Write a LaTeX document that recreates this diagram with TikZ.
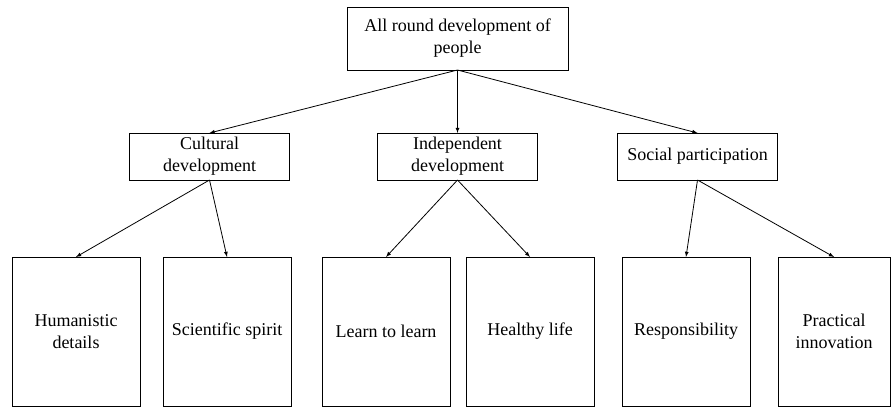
\documentclass[tikz,border=0pt]{standalone}
\usepackage{fontspec}
\setmainfont{Liberation Serif}
\usetikzlibrary{arrows,positioning}
\def \medY {63pt}
\def \leafY {331.5}
\tikzset{
 	topblock/.style= {draw, rectangle, align=center, minimum width=221pt, minimum height=63pt, font=\fontsize{18}{22}\selectfont},
 	midblock/.style= {draw, rectangle, align=center, minimum width=160pt, minimum height=47pt, font=\fontsize{18}{22}\selectfont},
 	leafblock/.style= {draw, rectangle, align=center, minimum width=128pt, minimum height=149pt, font=\fontsize{18}{22}\selectfont},
 	link/.style= {draw, -latex, line width=0.8pt}
 }
\begin{document}
\begin{tikzpicture}[x=1pt, y=-1pt, inner sep=2pt, outer sep=0pt, line width=0.8pt]
\useasboundingbox (0,0) rectangle (893,407);

%%%%%%%%%%%%%%%%%%%%% Nodes %%%%%%%%%%%%%%%%%%%%%
	\node [topblock] (all) at (457.5,38.5) {All round development of\\people};
    \node [midblock, below = \medY of all] (indep) {Independent\\development};
    \node [midblock, left = 88pt of indep] (cult) {Cultural\\development};
    \node [midblock, right = 80pt of indep] (social) {Social participation};

    \node [leafblock] (human) at (76,\leafY) {Humanistic\\details};
    \node [leafblock] (sci) at (227,\leafY) {Scientific spirit};
    \node [leafblock] (learn) at (386,\leafY) {Learn to learn};
    \node [leafblock] (health) at (530,\leafY) {Healthy life};
    \node [leafblock] (resp) at (686,\leafY) {Responsibility};
    \node [leafblock, minimum width=112pt] (pract) at (834,\leafY) {Practical\\innovation};

%%%%%%%%%%%%%%%%%%%%% Links %%%%%%%%%%%%%%%%%%%%%
	\draw [link] (all.south) -- (cult.north);
	\draw [link] (all.south) -- (indep.north);
	\draw [link] (all.south) -- (social.north);
	\draw [link] (cult.south) -- (human.north);
	\draw [link] (cult.south) -- (sci.north);
	\draw [link] (indep.south) -- (learn.north);
	\draw [link] (indep.south) -- (health.north);
	\draw [link] (social.south) -- (resp.north);
	\draw [link] (social.south) -- (pract.north);

\end{tikzpicture}
\end{document}
